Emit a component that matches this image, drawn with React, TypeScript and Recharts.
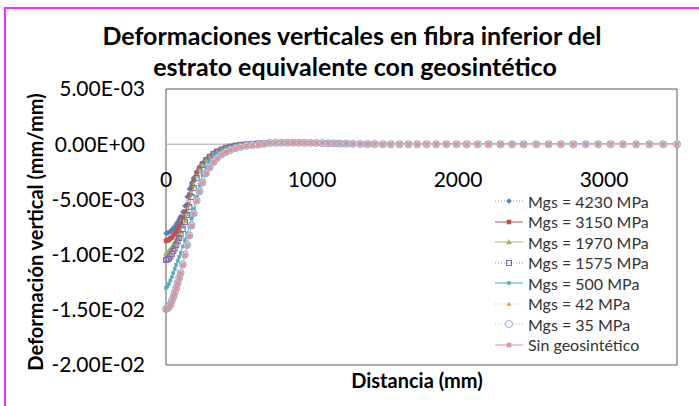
import React from "react";
import {
  LineChart,
  Line,
  XAxis,
  YAxis,
  ReferenceLine,
  ReferenceArea,
} from "recharts";

// distances along the layer (mm); values below are strains in units of 1E-03 mm/mm
const X_HEAD = [
  0, 10, 20, 30, 40, 50, 60, 70, 80, 90, 100, 115, 130, 145, 160, 175, 190, 210,
  230, 250, 275, 300, 325, 350, 380, 410, 440, 475, 510, 550, 590, 630, 670,
];
const X_TAIL = [
  710, 750, 790, 830, 870, 910, 950, 990, 1030, 1070, 1110, 1150, 1190, 1235,
  1280, 1330, 1380, 1430, 1485, 1540, 1600, 1660, 1720, 1785, 1850, 1920, 1990,
  2060, 2135, 2210, 2290, 2370, 2450, 2535, 2620, 2705, 2790, 2875, 2960, 3045,
  3130, 3220, 3310, 3405, 3500,
];
// far field, same for every case
const Y_TAIL = [
  0.11, 0.12, 0.13, 0.13, 0.13, 0.13, 0.12, 0.12, 0.11, 0.1, 0.08, 0.07, 0.05,
  0.04, 0.03, 0.02, 0.01, 0.01, 0, 0, 0, 0, 0, 0, 0, 0, 0, 0, 0, 0, 0, 0, 0, 0,
  0, 0, 0, 0, 0, 0, 0, 0, 0, 0, 0,
];

const MGS_4230 = [
  -8.06, -8.04, -7.99, -7.9, -7.76, -7.63, -7.45, -7.22, -7.04, -6.77, -6.54,
  -6.13, -5.59, -4.77, -4.05, -3.51, -3.05, -2.51, -2.06, -1.69, -1.33, -1.06,
  -0.79, -0.61, -0.43, -0.29, -0.18, -0.1, -0.05, 0, 0.05, 0.08, 0.1,
];
const MGS_3150 = [
  -8.76, -8.72, -8.65, -8.53, -8.44, -8.26, -8.08, -7.9, -7.67, -7.4, -7.13,
  -6.63, -6.13, -5.5, -4.59, -3.87, -3.23, -2.6, -2.15, -1.74, -1.38, -1.08,
  -0.82, -0.63, -0.44, -0.31, -0.2, -0.11, -0.05, -0.01, 0.04, 0.07, 0.09,
];
const MGS_1970 = [
  -9.89, -9.8, -9.67, -9.49, -9.35, -9.12, -8.9, -8.67, -8.4, -8.17, -7.9,
  -7.45, -6.95, -6.31, -5.41, -4.5, -3.69, -2.87, -2.28, -1.83, -1.42, -1.12,
  -0.85, -0.65, -0.47, -0.33, -0.21, -0.12, -0.06, -0.01, 0.03, 0.06, 0.09,
];
const MGS_1575 = [
  -10.48, -10.44, -10.35, -10.17, -9.94, -9.67, -9.44, -9.12, -8.81, -8.49,
  -8.17, -7.67, -7.04, -6.41, -5.68, -4.78, -3.96, -3.05, -2.37, -1.88, -1.47,
  -1.15, -0.88, -0.68, -0.49, -0.34, -0.22, -0.13, -0.06, -0.02, 0.03, 0.06,
  0.08,
];
const MGS_500 = [
  -13.02, -12.88, -12.66, -12.34, -12.02, -11.66, -11.3, -10.93, -10.57,
  -10.21, -9.85, -9.26, -8.67, -8.08, -7.45, -6.72, -5.86, -4.77, -3.69, -2.78,
  -2.06, -1.51, -1.11, -0.82, -0.56, -0.38, -0.24, -0.14, -0.07, -0.02, 0.02,
  0.05, 0.08,
];
const MGS_42 = [
  -14.86, -14.79, -14.7, -14.51, -14.15, -13.79, -13.38, -12.97, -12.52,
  -12.07, -11.61, -10.84, -9.94, -9.08, -8.22, -7.31, -6.22, -5.05, -4.23,
  -3.42, -2.6, -2.06, -1.6, -1.24, -0.92, -0.7, -0.52, -0.35, -0.24, -0.14,
  -0.07, -0.02, 0.03,
];
const MGS_35 = [
  -14.93, -14.85, -14.74, -14.55, -14.2, -13.84, -13.43, -13.02, -12.58,
  -12.12, -11.66, -10.9, -10.0, -9.14, -8.27, -7.36, -6.27, -5.1, -4.27, -3.46,
  -2.63, -2.09, -1.62, -1.26, -0.94, -0.71, -0.53, -0.36, -0.25, -0.15, -0.08,
  -0.03, 0.02,
];
const SIN_GEO = [
  -15.0, -14.92, -14.8, -14.6, -14.25, -13.89, -13.48, -13.07, -12.62, -12.16,
  -11.7, -10.94, -10.04, -9.18, -8.31, -7.4, -6.31, -5.13, -4.3, -3.49, -2.66,
  -2.11, -1.64, -1.28, -0.95, -0.72, -0.54, -0.37, -0.25, -0.16, -0.09, -0.03,
  0.02,
];

const X_TICKS = [0, 1000, 2000, 3000];
const Y_TICKS = [5, 0, -5, -10, -15, -20];
const Y_TICK_LABELS = ["5.00E-03", "0.00E+00", "-5.00E-03", "-1.00E-02", "-1.50E-02", "-2.00E-02"];

type Shape = "diamond" | "square" | "triangle" | "openSquare" | "star" | "smallTriangle" | "circle";

const SERIES: {
  key: string;
  name: string;
  values: number[];
  stroke: string;
  dash?: string;
  width: number;
  shape: Shape;
  fill: string;
  mstroke: string;
}[] = [
  { key: "s1", name: "Mgs = 4230 MPa", values: MGS_4230, stroke: "#4f81bd", dash: "1 2", width: 0.8, shape: "diamond", fill: "#4f81bd", mstroke: "#4f81bd" },
  { key: "s2", name: "Mgs = 3150 MPa", values: MGS_3150, stroke: "#c0504d", width: 1, shape: "square", fill: "#c0504d", mstroke: "#c0504d" },
  { key: "s3", name: "Mgs = 1970 MPa", values: MGS_1970, stroke: "#9bbb59", width: 1, shape: "triangle", fill: "#9bbb59", mstroke: "#9bbb59" },
  { key: "s4", name: "Mgs = 1575 MPa", values: MGS_1575, stroke: "#8064a2", dash: "1 2", width: 0.8, shape: "openSquare", fill: "none", mstroke: "#8064a2" },
  { key: "s5", name: "Mgs = 500 MPa", values: MGS_500, stroke: "#4bacc6", width: 1, shape: "star", fill: "#4bacc6", mstroke: "#4bacc6" },
  { key: "s6", name: "Mgs = 42 MPa", values: MGS_42, stroke: "#f79646", dash: "1 2", width: 0.8, shape: "smallTriangle", fill: "#f79646", mstroke: "#f79646" },
  { key: "s7", name: "Mgs = 35 MPa", values: MGS_35, stroke: "#95b3d7", dash: "1 2", width: 0.8, shape: "circle", fill: "#dbe5f1", mstroke: "#8eaadb" },
  { key: "s8", name: "Sin geosintético", values: SIN_GEO, stroke: "#e6b9b8", width: 1.5, shape: "square", fill: "#d99694", mstroke: "#d99694" },
];

const data = [...X_HEAD, ...X_TAIL].map((x, i) => {
  const row: Record<string, number> = { x };
  SERIES.forEach((s) => {
    row[s.key] = i < X_HEAD.length ? s.values[i] : Y_TAIL[i - X_HEAD.length];
  });
  return row;
});

const FONT = "Lato, Calibri, sans-serif";
const W = 699;
const H = 406;
const PLOT_TOP = 89;
const PLOT_H = 276;
const ZERO_Y = PLOT_TOP + (PLOT_H * 5) / 25;

function Marker({ cx, cy, shape, fill, stroke }: { cx: number; cy: number; shape: Shape; fill: string; stroke: string }) {
  if (cx == null || cy == null) return null;
  switch (shape) {
    case "diamond":
      return <path d={`M${cx},${cy - 2.5}L${cx + 2.5},${cy}L${cx},${cy + 2.5}L${cx - 2.5},${cy}Z`} fill={fill} stroke={stroke} strokeWidth={0.5} />;
    case "square":
      return <rect x={cx - 2} y={cy - 2} width={4} height={4} fill={fill} stroke={stroke} strokeWidth={0.5} />;
    case "triangle":
      return <path d={`M${cx},${cy - 2.5}L${cx + 2.5},${cy + 2}L${cx - 2.5},${cy + 2}Z`} fill={fill} stroke={stroke} strokeWidth={0.5} />;
    case "smallTriangle":
      return <path d={`M${cx},${cy - 2}L${cx + 2},${cy + 1.5}L${cx - 2},${cy + 1.5}Z`} fill={fill} stroke={stroke} strokeWidth={0.5} />;
    case "openSquare":
      return <rect x={cx - 2.5} y={cy - 2.5} width={5} height={5} fill="none" stroke={stroke} strokeWidth={1} />;
    case "star":
      return <rect x={cx - 1.5} y={cy - 1.5} width={3} height={3} fill={fill} stroke={stroke} strokeWidth={0.5} />;
    case "circle":
      return <circle cx={cx} cy={cy} r={3.5} fill={fill} stroke={stroke} strokeWidth={1} />;
  }
  return null;
}

function XTick(props: any) {
  const { x, payload } = props;
  return (
    <text x={x} y={ZERO_Y + 43} textAnchor="middle" fontSize={21} fontFamily={FONT} fill="#000">
      {payload.value}
    </text>
  );
}

function YTick(props: any) {
  const { y, payload } = props;
  const i = Y_TICKS.indexOf(payload.value);
  return (
    <text x={145} y={y} dy="0.35em" textAnchor="end" fontSize={21} fontFamily={FONT} fill="#000">
      {Y_TICK_LABELS[i]}
    </text>
  );
}

function LegendBox() {
  return (
    <div style={{ position: "absolute", left: 493, top: 191, fontFamily: FONT, fontSize: 16, color: "#333" }}>
      {SERIES.map((s) => (
        <div key={s.key} style={{ display: "flex", alignItems: "center", height: 20.5 }}>
          <svg width={32} height={12} style={{ marginRight: 3 }}>
            <line x1={2} y1={6} x2={30} y2={6} stroke={s.stroke} strokeWidth={s.width} strokeDasharray={s.dash} />
            <Marker cx={16} cy={6} shape={s.shape} fill={s.shape === "circle" ? "#fff" : s.fill} stroke={s.mstroke} />
          </svg>
          <span style={{ whiteSpace: "nowrap" }}>{s.name}</span>
        </div>
      ))}
    </div>
  );
}

export default function App() {
  return (
    <div style={{ position: "absolute", left: 0, top: 0, width: W, height: H, background: "#fff", fontFamily: FONT }}>
      <LineChart width={W} height={H} data={data} margin={{ top: PLOT_TOP, right: 22, bottom: 0, left: 0 }}>
        <XAxis
          dataKey="x"
          type="number"
          domain={[0, 3500]}
          ticks={X_TICKS}
          height={41}
          axisLine={false}
          tickLine={false}
          tick={<XTick />}
        />
        <YAxis
          type="number"
          domain={[-20, 5]}
          ticks={Y_TICKS}
          width={166}
          axisLine={false}
          tickLine={false}
          tick={<YTick />}
          interval={0}
        />
        <ReferenceArea x1={0} x2={3500} y1={-20} y2={5} fill="none" stroke="#595959" strokeWidth={1} />
        <ReferenceLine y={0} stroke="#a6a6a6" strokeWidth={1} />
        {SERIES.map((s) => (
          <Line
            key={s.key}
            dataKey={s.key}
            name={s.name}
            stroke={s.stroke}
            strokeWidth={s.width}
            strokeDasharray={s.dash}
            isAnimationActive={false}
            dot={(p: any) => <Marker key={`${s.key}-${p.index}`} cx={p.cx} cy={p.cy} shape={s.shape} fill={s.fill} stroke={s.mstroke} />}
            activeDot={false}
          />
        ))}
      </LineChart>
      <LegendBox />
      <svg width={W} height={H} style={{ position: "absolute", left: 0, top: 0, pointerEvents: "none" }}>
        <text x={352} y={45} textAnchor="middle" fontSize={25} fontWeight="bold" fontFamily={FONT} fill="#000">
          Deformaciones verticales en fibra inferior del
        </text>
        <text x={355} y={76} textAnchor="middle" fontSize={25} fontWeight="bold" fontFamily={FONT} fill="#000">
          estrato equivalente con geosintético
        </text>
        <text x={417} y={388} textAnchor="middle" fontSize={20} fontWeight="bold" fontFamily={FONT} fill="#000">
          Distancia (mm)
        </text>
        <text
          transform="translate(43,232) rotate(-90)"
          textAnchor="middle"
          fontSize={20}
          fontWeight="bold"
          fontFamily={FONT}
          fill="#000"
        >
          Deformación vertical (mm/mm)
        </text>
      </svg>
      <div
        style={{
          position: "absolute",
          left: 4,
          top: 7,
          width: W,
          height: H,
          borderTop: "2px solid #f030f0",
          borderLeft: "2px solid #f030f0",
          pointerEvents: "none",
        }}
      />
    </div>
  );
}
